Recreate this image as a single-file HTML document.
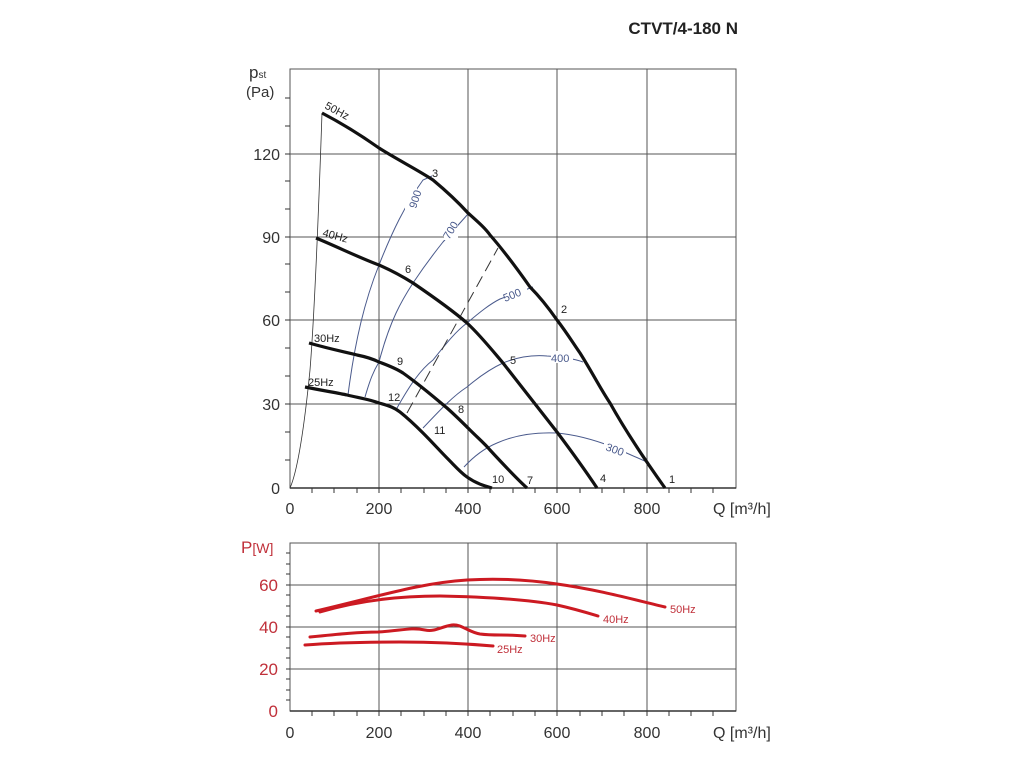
<!DOCTYPE html>
<html><head><meta charset="utf-8"><style>
body{margin:0;background:#fff}
svg{display:block;font-family:"Liberation Sans",Arial,sans-serif}
</style></head><body>
<svg width="1024" height="768" viewBox="0 0 1024 768">
<text x="738" y="34" font-size="17" font-weight="bold" text-anchor="end" fill="#222">CTVT/4-180 N</text>
<g stroke="#555" stroke-width="1" fill="none">
<rect x="290" y="69" width="446" height="419"/>
<line x1="379" y1="69" x2="379" y2="488"/><line x1="468" y1="69" x2="468" y2="488"/>
<line x1="557" y1="69" x2="557" y2="488"/><line x1="647" y1="69" x2="647" y2="488"/>
<line x1="290" y1="154" x2="736" y2="154"/><line x1="290" y1="237" x2="736" y2="237"/>
<line x1="290" y1="320" x2="736" y2="320"/><line x1="290" y1="404" x2="736" y2="404"/>
</g>
<g stroke="#333" stroke-width="1">
<line x1="290" y1="488" x2="736" y2="488" stroke-width="1.5"/>
<line x1="285" y1="460" x2="290" y2="460"/><line x1="285" y1="432" x2="290" y2="432"/><line x1="285" y1="404" x2="290" y2="404"/>
<line x1="285" y1="376" x2="290" y2="376"/><line x1="285" y1="348" x2="290" y2="348"/><line x1="285" y1="320" x2="290" y2="320"/>
<line x1="285" y1="292" x2="290" y2="292"/><line x1="285" y1="264" x2="290" y2="264"/><line x1="285" y1="237" x2="290" y2="237"/>
<line x1="285" y1="209" x2="290" y2="209"/><line x1="285" y1="181" x2="290" y2="181"/><line x1="285" y1="154" x2="290" y2="154"/>
<line x1="285" y1="126" x2="290" y2="126"/><line x1="285" y1="98" x2="290" y2="98"/>
<line x1="312" y1="488" x2="312" y2="493"/><line x1="334" y1="488" x2="334" y2="493"/><line x1="357" y1="488" x2="357" y2="493"/><line x1="379" y1="488" x2="379" y2="493"/>
<line x1="401" y1="488" x2="401" y2="493"/><line x1="424" y1="488" x2="424" y2="493"/><line x1="446" y1="488" x2="446" y2="493"/><line x1="468" y1="488" x2="468" y2="493"/>
<line x1="490" y1="488" x2="490" y2="493"/><line x1="513" y1="488" x2="513" y2="493"/><line x1="535" y1="488" x2="535" y2="493"/><line x1="557" y1="488" x2="557" y2="493"/>
<line x1="580" y1="488" x2="580" y2="493"/><line x1="602" y1="488" x2="602" y2="493"/><line x1="624" y1="488" x2="624" y2="493"/><line x1="647" y1="488" x2="647" y2="493"/>
<line x1="669" y1="488" x2="669" y2="493"/><line x1="691" y1="488" x2="691" y2="493"/><line x1="713" y1="488" x2="713" y2="493"/>
</g>
<g font-size="16" fill="#333" text-anchor="end">
<text x="280" y="494">0</text><text x="280" y="410">30</text><text x="280" y="326">60</text><text x="280" y="243">90</text><text x="280" y="160">120</text>
</g>
<g font-size="16" fill="#333" text-anchor="middle">
<text x="290" y="514">0</text><text x="379" y="514">200</text><text x="468" y="514">400</text><text x="557" y="514">600</text><text x="647" y="514">800</text>
</g>
<text x="713" y="514" font-size="16" fill="#333">Q [m³/h]</text>
<text x="249" y="78" font-size="17" fill="#333">p<tspan font-size="10">st</tspan></text>
<text x="246" y="97" font-size="15" fill="#333">(Pa)</text>
<path d="M290,488 C298,470 305,420 310,370 C314,320 318,230 322,113" stroke="#333" stroke-width="0.8" fill="none"/>
<g stroke="#4a5a8c" stroke-width="1" fill="none">
<path d="M348,395 C355,340 365,300 379,265 C392,232 405,205 423,180 L432,176"/>
<path d="M365,397 C370,380 373,372 379,362 C390,320 402,300 413,283 C425,265 435,252 443,242 L468,214"/>
<path d="M397,408 C410,385 420,370 433,360 C445,345 455,332 467,323 C480,312 490,304 500,299 L533,287"/>
<path d="M423,428 C440,410 453,396 467,387 C480,376 492,368 503,363 C520,356 535,355 547,356 C565,357 575,359 583,362"/>
<path d="M464,467 C475,455 485,448 497,443 C515,435 535,432 557,433 C580,435 600,442 613,447 L647,462"/>
</g>
<line x1="407" y1="413" x2="498" y2="248" stroke="#333" stroke-width="1" stroke-dasharray="12,6"/>
<g font-size="11" fill="#4a5a8c">
<rect x="405" y="186" width="12" height="26" fill="#fff"/>
<text x="0" y="0" transform="translate(416,209) rotate(-72)" fill="#4a5a8c">900</text>
<rect x="444" y="218" width="14" height="22" fill="#fff"/>
<text x="0" y="0" transform="translate(449,240) rotate(-58)">700</text>
<rect x="505" y="288" width="22" height="14" fill="#fff"/>
<text x="0" y="0" transform="translate(505,302) rotate(-22)">500</text>
<rect x="551" y="351" width="22" height="12" fill="#fff"/>
<text x="551" y="362">400</text>
<rect x="604" y="441" width="22" height="14" fill="#fff"/>
<text x="0" y="0" transform="translate(605,450) rotate(20)">300</text>
</g>
<g stroke="#111" stroke-width="3.2" fill="none" stroke-linejoin="round">
<path d="M322,113 C345,125 362,136 379,148 C398,160 418,170 433,180 C445,190 458,202 468,213 C478,222 485,228 490,235 C505,252 518,270 530,287 C540,297 550,310 557,320 C567,333 573,343 580,353 C592,372 600,388 610,403 C625,430 645,460 665,488"/>
<path d="M316,238 C340,248 360,258 379,265 C395,272 405,278 413,283 C435,298 452,310 467,323 C480,335 492,350 503,363 C520,385 540,410 557,432 C572,452 585,470 597,488"/>
<path d="M309,343 C330,349 345,352 357,355 C367,357 373,359 379,362 C390,366 397,369 403,373 C420,385 435,398 447,408 C456,416 463,423 470,430 C478,438 485,444 490,450 C502,463 515,477 527,488"/>
<path d="M305,387 C325,391 338,393 347,395 C360,398 372,400 379,403 C390,406 395,408 400,412 C410,420 416,426 423,433 C433,443 440,451 447,458 C455,466 460,472 467,477 C477,484 485,486 492,488"/>
</g>
<g font-size="11" fill="#222">
<text x="432" y="177">3</text><text x="561" y="313">2</text><text x="405" y="273">6</text><text x="510" y="364">5</text>
<text x="397" y="365">9</text><text x="458" y="413">8</text><text x="388" y="401">12</text><text x="434" y="434">11</text>
<text x="492" y="483">10</text><text x="527" y="484">7</text><text x="600" y="482">4</text><text x="669" y="483">1</text>
<text transform="translate(324,108) rotate(28)">50Hz</text>
<text transform="translate(322,236) rotate(15)">40Hz</text>
<text x="314" y="342">30Hz</text>
<text x="308" y="386">25Hz</text>
</g>
<g stroke="#555" stroke-width="1" fill="none">
<rect x="290" y="543" width="446" height="168"/>
<line x1="379" y1="543" x2="379" y2="711"/><line x1="468" y1="543" x2="468" y2="711"/>
<line x1="557" y1="543" x2="557" y2="711"/><line x1="647" y1="543" x2="647" y2="711"/>
<line x1="290" y1="585" x2="736" y2="585"/><line x1="290" y1="627" x2="736" y2="627"/><line x1="290" y1="669" x2="736" y2="669"/>
</g>
<g stroke="#333" stroke-width="1">
<line x1="290" y1="711" x2="736" y2="711" stroke-width="1.5"/>
<line x1="286" y1="700" x2="290" y2="700"/><line x1="286" y1="690" x2="290" y2="690"/><line x1="286" y1="679" x2="290" y2="679"/>
<line x1="286" y1="669" x2="290" y2="669"/><line x1="286" y1="658" x2="290" y2="658"/><line x1="286" y1="648" x2="290" y2="648"/>
<line x1="286" y1="637" x2="290" y2="637"/><line x1="286" y1="627" x2="290" y2="627"/><line x1="286" y1="616" x2="290" y2="616"/>
<line x1="286" y1="606" x2="290" y2="606"/><line x1="286" y1="595" x2="290" y2="595"/><line x1="286" y1="585" x2="290" y2="585"/>
<line x1="286" y1="574" x2="290" y2="574"/><line x1="286" y1="564" x2="290" y2="564"/><line x1="286" y1="553" x2="290" y2="553"/>
<line x1="312" y1="711" x2="312" y2="716"/><line x1="334" y1="711" x2="334" y2="716"/><line x1="357" y1="711" x2="357" y2="716"/><line x1="379" y1="711" x2="379" y2="716"/>
<line x1="401" y1="711" x2="401" y2="716"/><line x1="424" y1="711" x2="424" y2="716"/><line x1="446" y1="711" x2="446" y2="716"/><line x1="468" y1="711" x2="468" y2="716"/>
<line x1="490" y1="711" x2="490" y2="716"/><line x1="513" y1="711" x2="513" y2="716"/><line x1="535" y1="711" x2="535" y2="716"/><line x1="557" y1="711" x2="557" y2="716"/>
<line x1="580" y1="711" x2="580" y2="716"/><line x1="602" y1="711" x2="602" y2="716"/><line x1="624" y1="711" x2="624" y2="716"/><line x1="647" y1="711" x2="647" y2="716"/>
<line x1="669" y1="711" x2="669" y2="716"/><line x1="691" y1="711" x2="691" y2="716"/><line x1="713" y1="711" x2="713" y2="716"/>
</g>
<g font-size="17" fill="#c0303a" text-anchor="end">
<text x="278" y="717">0</text><text x="278" y="675">20</text><text x="278" y="633">40</text><text x="278" y="591">60</text>
</g>
<text x="241" y="553" font-size="17" fill="#c0303a">P<tspan font-size="14">[W]</tspan></text>
<g font-size="16" fill="#333" text-anchor="middle">
<text x="290" y="738">0</text><text x="379" y="738">200</text><text x="468" y="738">400</text><text x="557" y="738">600</text><text x="647" y="738">800</text>
</g>
<text x="713" y="738" font-size="16" fill="#333">Q [m³/h]</text>
<g stroke="#cc1a22" stroke-width="3" fill="none" stroke-linecap="round">
<path d="M316,611 C380,596 420,583 467,580 C500,578 530,580 557,584 C600,590 635,600 665,607"/>
<path d="M320,612 C360,600 400,596 440,596 C490,597 530,600 557,605 C575,609 588,613 598,616"/>
<path d="M310,637 C340,634 360,632 378,632 C400,631 410,627 425,630 C435,632 440,627 452,625 C462,624 468,632 480,634 C495,636 505,634 525,636"/>
<path d="M305,645 C330,643 360,642 400,642 C440,642 470,644 493,646"/>
</g>
<g font-size="11" fill="#c0303a">
<text x="670" y="613">50Hz</text><text x="603" y="623">40Hz</text><text x="530" y="642">30Hz</text><text x="497" y="653">25Hz</text>
</g>
</svg>
</body></html>
